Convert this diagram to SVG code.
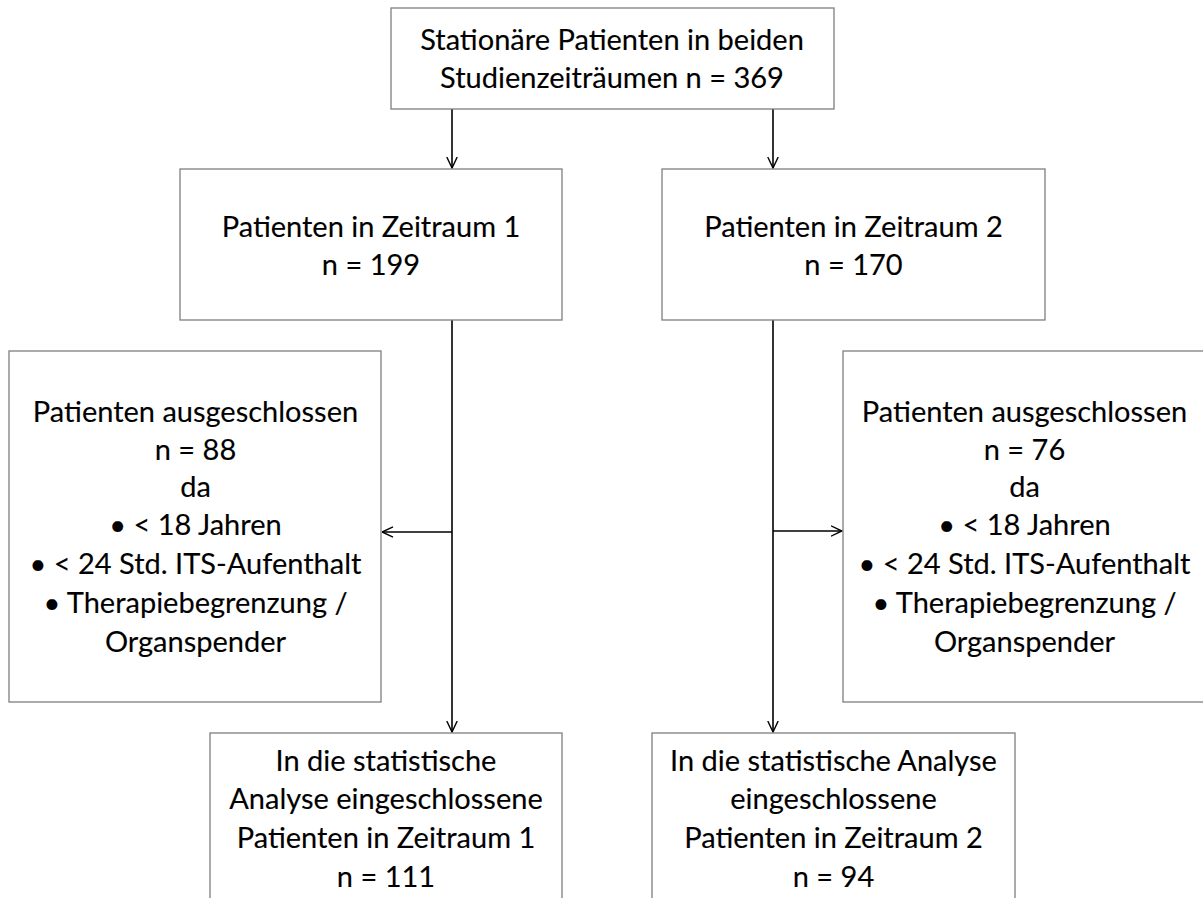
<svg xmlns="http://www.w3.org/2000/svg" width="1203" height="898" viewBox="0 0 1203 898">
<style>
  .box { fill: #ffffff; stroke: #7f7f7f; stroke-width: 1.3; }
  .t { font-family: Lato, "Open Sans", "Liberation Sans", sans-serif; font-size: 29px; fill: #000000; stroke: #000000; stroke-width: 0.12; text-anchor: middle; }
  .c { fill: none; stroke: #000000; stroke-width: 1.6; }
</style>
<defs>
  <marker id="arr" viewBox="0 0 12 12" refX="11.5" refY="6" markerWidth="12" markerHeight="12" markerUnits="userSpaceOnUse" orient="auto">
    <path d="M0.5,0.8 L11.5,6 L0.5,11.2" fill="none" stroke="#000000" stroke-width="1.4"/>
  </marker>
</defs>
<rect width="1203" height="898" fill="#ffffff"/>

<g id="connectors">
  <line class="c" x1="452" y1="109" x2="452" y2="168" marker-end="url(#arr)"/>
  <line class="c" x1="773" y1="109" x2="773" y2="168" marker-end="url(#arr)"/>
  <line class="c" x1="452" y1="320" x2="452" y2="732" marker-end="url(#arr)"/>
  <line class="c" x1="452" y1="532" x2="382" y2="532" marker-end="url(#arr)"/>
  <line class="c" x1="773" y1="320" x2="773" y2="732" marker-end="url(#arr)"/>
  <line class="c" x1="773" y1="531" x2="842" y2="531" marker-end="url(#arr)"/>
</g>

<g id="node-total">
  <rect class="box" x="391" y="8" width="443" height="101"/>
  <text class="t" x="612" y="50">Stationäre Patienten in beiden</text>
  <text class="t" x="612" y="88">Studienzeiträumen n = 369</text>
</g>

<g id="node-zeitraum1">
  <rect class="box" x="180" y="169" width="382" height="151"/>
  <text class="t" x="371" y="237">Patienten in Zeitraum 1</text>
  <text class="t" x="371" y="275">n = 199</text>
</g>

<g id="node-zeitraum2">
  <rect class="box" x="662" y="169" width="383" height="151"/>
  <text class="t" x="853.5" y="237">Patienten in Zeitraum 2</text>
  <text class="t" x="853.5" y="275">n = 170</text>
</g>

<g id="node-excl1">
  <rect class="box" x="9" y="351" width="372" height="351"/>
  <text class="t" x="195.5" y="422">Patienten ausgeschlossen</text>
  <text class="t" x="195.5" y="460">n = 88</text>
  <text class="t" x="195.5" y="497">da</text>
  <text class="t" x="195.5" y="535">• &lt; 18 Jahren</text>
  <text class="t" x="195.5" y="574">• &lt; 24 Std. ITS-Aufenthalt</text>
  <text class="t" x="195.5" y="613">• Therapiebegrenzung /</text>
  <text class="t" x="195.5" y="652">Organspender</text>
</g>

<g id="node-excl2">
  <rect class="box" x="843" y="351" width="372" height="351"/>
  <text class="t" x="1024.5" y="422">Patienten ausgeschlossen</text>
  <text class="t" x="1024.5" y="460">n = 76</text>
  <text class="t" x="1024.5" y="497">da</text>
  <text class="t" x="1024.5" y="535">• &lt; 18 Jahren</text>
  <text class="t" x="1024.5" y="574">• &lt; 24 Std. ITS-Aufenthalt</text>
  <text class="t" x="1024.5" y="613">• Therapiebegrenzung /</text>
  <text class="t" x="1024.5" y="652">Organspender</text>
</g>

<g id="node-incl1">
  <rect class="box" x="210" y="733" width="352" height="180"/>
  <text class="t" x="386" y="771">In die statistische</text>
  <text class="t" x="386" y="809">Analyse eingeschlossene</text>
  <text class="t" x="386" y="848">Patienten in Zeitraum 1</text>
  <text class="t" x="386" y="887">n = 111</text>
</g>

<g id="node-incl2">
  <rect class="box" x="652" y="733" width="363" height="180"/>
  <text class="t" x="833.5" y="771">In die statistische Analyse</text>
  <text class="t" x="833.5" y="809">eingeschlossene</text>
  <text class="t" x="833.5" y="848">Patienten in Zeitraum 2</text>
  <text class="t" x="833.5" y="887">n = 94</text>
</g>
</svg>
